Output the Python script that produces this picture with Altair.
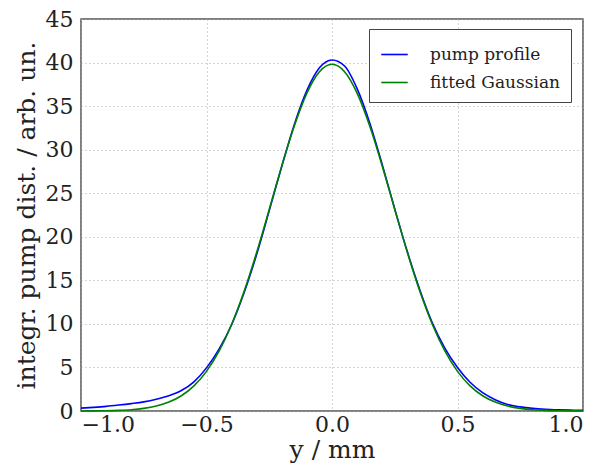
import altair as alt
import pandas as pd

x_mm = [-1.0, -0.95, -0.9, -0.85, -0.8, -0.75, -0.7, -0.65, -0.6, -0.55, -0.5,
        -0.45, -0.4, -0.35, -0.3, -0.25, -0.2, -0.15, -0.1, -0.05, 0.0,
        0.05, 0.1, 0.15, 0.2, 0.25, 0.3, 0.35, 0.4, 0.45, 0.5,
        0.55, 0.6, 0.65, 0.7, 0.75, 0.8, 0.85, 0.9, 0.95, 1.0]

pump_profile = [0.33, 0.42, 0.53, 0.68, 0.85, 1.05, 1.35, 1.75, 2.35, 3.35, 4.95,
                7.1, 9.9, 13.6, 18.0, 23.0, 28.1, 32.9, 36.8, 39.4, 40.3,
                39.6, 37.0, 33.1, 28.3, 23.2, 18.3, 13.9, 10.1, 7.2, 5.0,
                3.3, 2.1, 1.3, 0.75, 0.47, 0.3, 0.2, 0.14, 0.1, 0.08]

fitted_gaussian = [0.006, 0.015, 0.035, 0.075, 0.15, 0.3, 0.57, 1.02, 1.75, 2.88, 4.55,
                   6.86, 9.93, 13.74, 18.22, 23.14, 28.13, 32.74, 36.49, 38.95, 39.8,
                   38.95, 36.49, 32.74, 28.13, 23.14, 18.22, 13.74, 9.93, 6.86, 4.55,
                   2.88, 1.75, 1.02, 0.57, 0.3, 0.15, 0.075, 0.035, 0.015, 0.006]

series_names = ["pump profile", "fitted Gaussian"]
series_colors = ["#0000ff", "#008000"]

rows = []
for name, vals in zip(series_names, [pump_profile, fitted_gaussian]):
    for i, (xv, yv) in enumerate(zip(x_mm, vals)):
        rows.append({"x": xv, "y": yv, "series": name, "ord": i})
df = pd.DataFrame(rows)

font = "DejaVu Serif"

chart = alt.Chart(df).mark_line(strokeWidth=1.6, interpolate="monotone").encode(
    x=alt.X("x:Q",
            scale=alt.Scale(domain=[-1, 1], nice=False),
            axis=alt.Axis(values=[-1.0, -0.5, 0.0, 0.5, 1.0], format=".1f",
                          title="y / mm", labelPadding=3, titlePadding=2)),
    y=alt.Y("y:Q",
            scale=alt.Scale(domain=[0, 45], nice=False),
            axis=alt.Axis(values=[0, 5, 10, 15, 20, 25, 30, 35, 40, 45],
                          title="integr. pump dist. / arb. un.",
                          labelPadding=8, titlePadding=6)),
    color=alt.Color("series:N",
                    scale=alt.Scale(domain=series_names, range=series_colors),
                    legend=alt.Legend(title=None, orient="none",
                                      legendX=288, legendY=10)),
    detail="series:N",
    order="ord:Q",
).properties(
    width=502,
    height=392,
    autosize=alt.AutoSizeParams(type="none"),
    padding={"left": 73, "top": 11, "right": 12, "bottom": 56},
).configure_view(
    stroke="#555555",
    strokeWidth=1.5,
).configure_axis(
    grid=True,
    gridColor="#aaaaaa",
    gridDash=[1, 3],
    gridWidth=1,
    domain=False,
    ticks=False,
    labelFont=font,
    labelFontSize=22,
    labelColor="#222222",
    titleFont=font,
    titleFontSize=25,
    titleFontWeight="normal",
    titleColor="#222222",
).configure_legend(
    labelFont=font,
    labelFontSize=17,
    labelColor="#222222",
    symbolType="stroke",
    symbolSize=700,
    symbolStrokeWidth=1.6,
    labelOffset=21,
    rowPadding=5,
    padding=11,
    fillColor="white",
    strokeColor="#444444",
)

chart.save("out.html", embed_options={"renderer": "svg", "actions": False})
